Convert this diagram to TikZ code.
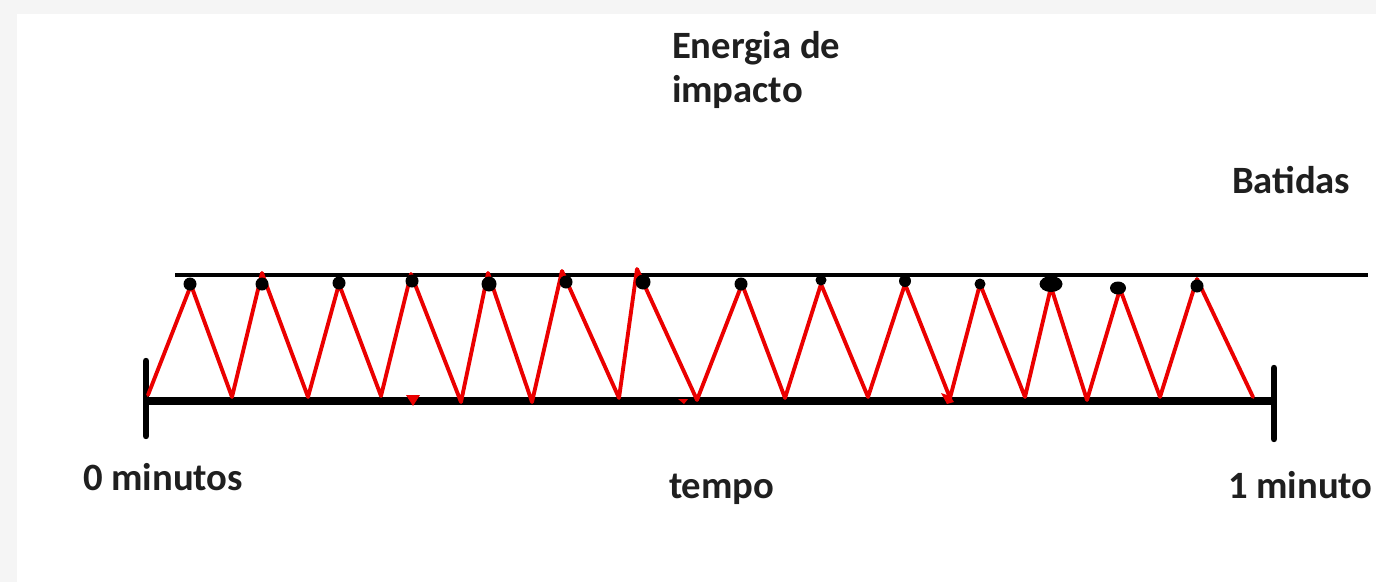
\documentclass[tikz,border=0pt]{standalone}
\usepackage{fontspec}
\setmainfont{Carlito}
\usetikzlibrary{shapes.geometric}
\begin{document}
\begin{tikzpicture}[x=0.75pt,y=-0.75pt,
  lbl/.style={inner sep=0pt,outer sep=0pt,anchor=base west,font=\bfseries\fontsize{29}{33}\selectfont,text=black!88},
  axis/.style={line width=6pt,black},
  tickline/.style={line width=4.8pt,black,line cap=round},
  topline/.style={line width=2.6pt,black},
  zig/.style={line width=2.9pt,red!92!black,line join=round,line cap=round},
  dot/.style={circle,fill=black,inner sep=0pt,minimum size=13pt*0.75},
  blob/.style={ellipse,fill=black,inner sep=0pt},
  redmark/.style={fill=red!92!black,draw=none}]
\useasboundingbox (0,0) rectangle (1376,582);
\fill[black!4] (0,0) rectangle (1376,582);
\fill[white] (17,14) rectangle (1376,582);
% lines
\coordinate (tl) at (175,275);
\coordinate (tr) at (1368,275);
\coordinate (bl) at (146,401);
\coordinate (br) at (1274,401);
\coordinate (lt) at (146,361);
\coordinate (lb) at (146,436);
\coordinate (rt) at (1274,368);
\coordinate (rb) at (1274,439);
\draw[topline] (tl) -- (tr);
\draw[axis] (bl) -- (br);
\draw[tickline] (lt) -- (lb);
\draw[tickline] (rt) -- (rb);
% zigzag
\draw[zig] (148,395) -- (191,285) -- (232,397) -- (262,273) -- (308,397) -- (339,284)
  -- (381,396) -- (411,274) -- (461,402) -- (488,273) -- (532,402) -- (562,271)
  -- (619,398) -- (637,269) -- (697,400) -- (742,284) -- (785,398) -- (821,284)
  -- (868,397) -- (905,284) -- (950,398) -- (980,284) -- (1025,397) -- (1051,287)
  -- (1087,400) -- (1120,289) -- (1160,397) -- (1197,279) -- (1253,397);
% dots
\node[dot] (d1) at (190,284) {};
\node[dot] (d2) at (262,284) {};
\node[dot] (d3) at (339,283) {};
\node[dot] (d4) at (412,281) {};
\node[dot,minimum size=15pt*0.75] (d5) at (489,284) {};
\node[dot] (d6) at (566,282) {};
\node[dot,minimum size=15pt*0.75] (d7) at (643,282) {};
\node[dot] (d8) at (741,284) {};
\node[dot,minimum size=11pt*0.75] (d9) at (821,280) {};
\node[dot,minimum size=12pt*0.75] (d10) at (905,281) {};
\node[dot,minimum size=11pt*0.75] (d11) at (980,284) {};
\node[blob,minimum width=23pt*0.75,minimum height=16pt*0.75] (d12) at (1051,284) {};
\node[blob,minimum width=16pt*0.75,minimum height=13pt*0.75] (d13) at (1118,288) {};
\node[dot] (d14) at (1197,286) {};
% small red marks on the axis
\fill[redmark] (406,395) -- (420,395) -- (413,406) -- cycle;
\fill[redmark] (678,399) -- (688,399) -- (684,404) -- cycle;
\fill[redmark] (941,393) -- (950,396) -- (954,402) -- (947,404) -- cycle;
% labels
\node[lbl,align=left] (energia) at (672,102) {Energia de\\impacto};
\node[lbl] (batidas) at (1232,193) {Batidas};
\node[lbl] (zero) at (83,490) {0 minutos};
\node[lbl] (tempo) at (669,498) {tempo};
\node[lbl] (um) at (1228,498) {1 minuto};
\end{tikzpicture}
\end{document}
